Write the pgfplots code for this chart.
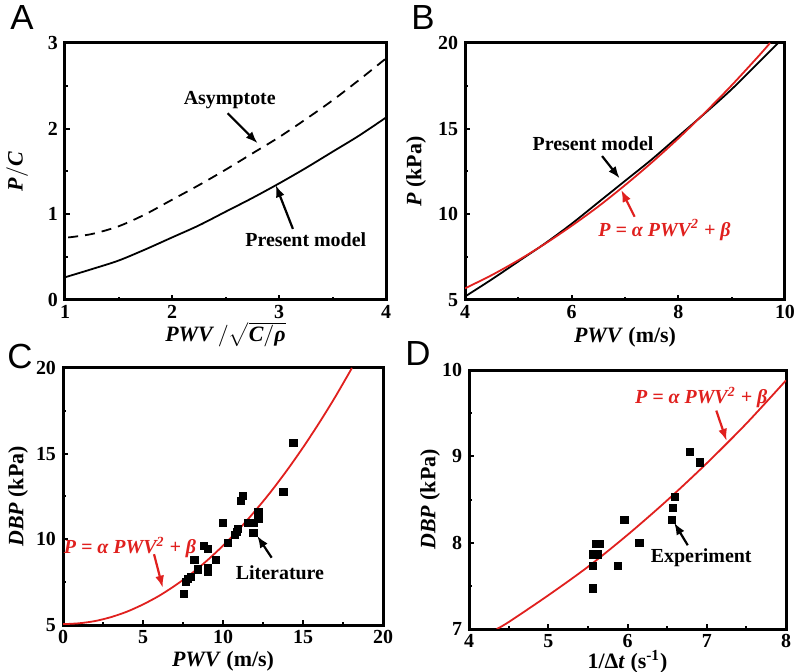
\documentclass[border=0pt]{standalone}
\usepackage{fontspec}
\setmainfont{Liberation Serif}
\newfontfamily\panelfont{Liberation Sans}
\usepackage{pgfplots}
\pgfplotsset{compat=1.18}
\usetikzlibrary{arrows.meta}
\definecolor{fitred}{HTML}{E0201E}

\pgfplotsset{
  panel/.style={
    scale only axis, anchor=south west,
    axis line style={line width=1.5bp},
    tick align=inside, tick pos=left,
    major tick length=2.5bp, minor tick length=1.5bp,
    tick style={line width=1bp, black},
    minor tick num=1,
    /pgf/number format/assume math mode=true,
    tick label style={font=\fontsize{10}{12}\selectfont\bfseries},
    xticklabel style={yshift=1bp},
    label style={font=\fontsize{11}{13}\selectfont\bfseries},
  },
}
\tikzset{
  note/.style={font=\fontsize{10}{12}\selectfont\bfseries},
  pointer/.style={-{Latex[length=6bp,width=4.5bp]}, line width=1.1bp},
}

\begin{document}
\begin{tikzpicture}
\path[use as bounding box] (0,0) rectangle (398bp,336bp);

% ---- A ----
\begin{axis}[panel, at={(32.5bp,186bp)}, width=160.5bp, height=128.5bp,
  xmin=1, xmax=4, ymin=0, ymax=3, xtick={1,2,3,4}, ytick={0,1,2,3},
  xlabel={\textit{PWV}\,$\big/\sqrt{\textit{C}/\textit{ρ}}$},
  ylabel={\textit{P}$\big/$\textit{C}},
  xlabel style={at={(axis description cs:0.5,-0.135)}, anchor=center},
  ylabel style={at={(axis description cs:-0.15,0.5)}, anchor=center}]
\addplot[black, line width=0.9bp, smooth] coordinates {
  (1,0.265) (1.25,0.36) (1.5,0.46) (1.75,0.59) (2,0.73) (2.25,0.87) (2.5,1.03)
  (2.75,1.19) (3,1.36) (3.25,1.54) (3.5,1.73) (3.75,1.92) (4,2.13)};
\addplot[black, line width=0.9bp, smooth, dash pattern={on 5bp off 3.5bp}] coordinates {
  (1.03,0.73) (1.25,0.77) (1.5,0.86) (1.75,1.0) (2,1.17) (2.25,1.34) (2.5,1.52)
  (2.75,1.71) (3,1.9) (3.25,2.11) (3.5,2.33) (3.75,2.57) (4,2.82)};
\node[note] at (axis cs:2.54,2.33) {Asymptote};
\draw[pointer] (axis cs:2.52,2.18) -- (axis cs:2.80,1.83);
\node[note] at (axis cs:3.25,0.70) {Present model};
\draw[pointer] (axis cs:3.13,0.83) -- (axis cs:2.97,1.34);
\end{axis}

% ---- B ----
\begin{axis}[panel, at={(232.5bp,186bp)}, width=160bp, height=128.5bp,
  xmin=4, xmax=10, ymin=5, ymax=20, xtick={4,6,8,10}, ytick={5,10,15,20},
  xlabel={\textit{PWV} (m/s)}, ylabel={\textit{P} (kPa)},
  xlabel style={at={(axis description cs:0.5,-0.145)}, anchor=center},
  ylabel style={at={(axis description cs:-0.153,0.5)}, anchor=center}]
\addplot[black, line width=0.9bp, smooth] coordinates {
  (4,5.2) (4.5,6.2) (5,7.25) (5.5,8.3) (6,9.45) (6.5,10.7) (7,11.95)
  (7.5,13.2) (8,14.55) (8.5,15.9) (9,17.3) (9.5,18.85) (9.87,20)};
\addplot[fitred, line width=0.9bp, smooth] coordinates {
  (4,5.68) (4.5,6.45) (5,7.32) (5.5,8.28) (6,9.33) (6.5,10.46) (7,11.70)
  (7.5,13.02) (8,14.43) (8.5,15.94) (9,17.53) (9.5,19.22) (9.72,20)};
\node[note] at (axis cs:6.40,14.15) {Present model};
\draw[pointer] (axis cs:6.57,13.4) -- (axis cs:6.9,12.1);
\node[note, text=fitred] at (axis cs:7.74,9.09) {\itshape P = α PWV\textsuperscript{2} + β};
\draw[pointer, fitred] (axis cs:7.18,9.86) -- (axis cs:6.93,11.42);
\end{axis}

% ---- C ----
\begin{axis}[panel, at={(31.5bp,23.5bp)}, width=160bp, height=128.5bp,
  xmin=0, xmax=20, ymin=5, ymax=20, xtick={0,5,10,15,20}, ytick={5,10,15,20},
  xlabel={\textit{PWV} (m/s)}, ylabel={\textit{DBP} (kPa)},
  xlabel style={at={(axis description cs:0.5,-0.14)}, anchor=center},
  ylabel style={at={(axis description cs:-0.14,0.5)}, anchor=center}]
\addplot[fitred, line width=0.9bp, smooth] coordinates {
  (0,5.05) (1,5.1) (2,5.23) (3,5.46) (4,5.78) (5,6.2) (6,6.7) (7,7.3) (8,7.98)
  (9,8.76) (10,9.63) (11,10.59) (12,11.65) (13,12.79) (14,14.03) (15,15.36)
  (16,16.78) (17,18.29) (18.06,20)};
\addplot[only marks, mark=square*, mark size=1.8bp, black] coordinates {
  (7.56,6.81) (7.69,7.53) (7.83,7.67) (7.98,7.82) (8.21,8.79) (8.42,8.25)
  (8.83,9.61) (9.04,9.42) (9.08,8.31) (9.08,8.08) (9.56,8.79) (9.98,10.94)
  (10.33,9.77) (10.75,10.25) (10.85,10.45) (10.95,10.6) (11.12,12.26)
  (11.23,12.53) (11.58,10.97) (11.9,10.94) (11.9,10.39) (12.21,11.61)
  (12.21,11.17) (13.77,12.78) (14.4,15.63)};
\node[note, text=fitred] at (axis cs:4.19,9.51) {\itshape P = α PWV\textsuperscript{2} + β};
\draw[pointer, fitred] (axis cs:5.69,9.13) -- (axis cs:6.23,7.18);
\node[note] at (axis cs:13.56,8.05) {Literature};
\draw[pointer] (axis cs:13.04,8.93) -- (axis cs:12.14,10.2);
\end{axis}

% ---- D ----
\begin{axis}[panel, at={(234.5bp,21.5bp)}, width=158.5bp, height=129.5bp,
  xmin=4, xmax=8, ymin=7, ymax=10, xtick={4,5,6,7,8}, ytick={7,8,9,10},
  xlabel={1/Δ\textit{t} (s\textsuperscript{-1})}, ylabel={\textit{DBP} (kPa)},
  xlabel style={at={(axis description cs:0.5,-0.128)}, anchor=center},
  ylabel style={at={(axis description cs:-0.123,0.5)}, anchor=center}]
\addplot[fitred, line width=0.9bp, smooth] coordinates {
  (4.35,7) (4.5,7.08) (5,7.39) (5.5,7.72) (6,8.09) (6.5,8.49) (7,8.92)
  (7.5,9.38) (8,9.88)};
\addplot[only marks, mark=square*, mark size=1.8bp, black] coordinates {
  (5.56,7.47) (5.56,7.73) (5.57,7.865) (5.62,7.865) (5.60,7.99) (5.65,7.99)
  (5.88,7.73) (5.96,8.26) (6.15,8.0) (6.56,8.26) (6.57,8.40) (6.60,8.53)
  (6.79,9.05) (6.91,8.93)};
\node[note, text=fitred] at (axis cs:6.93,9.68) {\itshape P = α PWV\textsuperscript{2} + β};
\draw[pointer, fitred] (axis cs:7.12,9.53) -- (axis cs:7.25,9.18);
\node[note] at (axis cs:6.93,7.83) {Experiment};
\draw[pointer] (axis cs:6.76,7.97) -- (axis cs:6.59,8.23);
\end{axis}

\node[font=\panelfont\fontsize{17.5}{20}\selectfont] at (11bp,327bp) {A};
\node[font=\panelfont\fontsize{17.5}{20}\selectfont] at (211.5bp,327bp) {B};
\node[font=\panelfont\fontsize{17.5}{20}\selectfont] at (10bp,158bp) {C};
\node[font=\panelfont\fontsize{17.5}{20}\selectfont] at (209bp,159bp) {D};
\end{tikzpicture}
\end{document}
